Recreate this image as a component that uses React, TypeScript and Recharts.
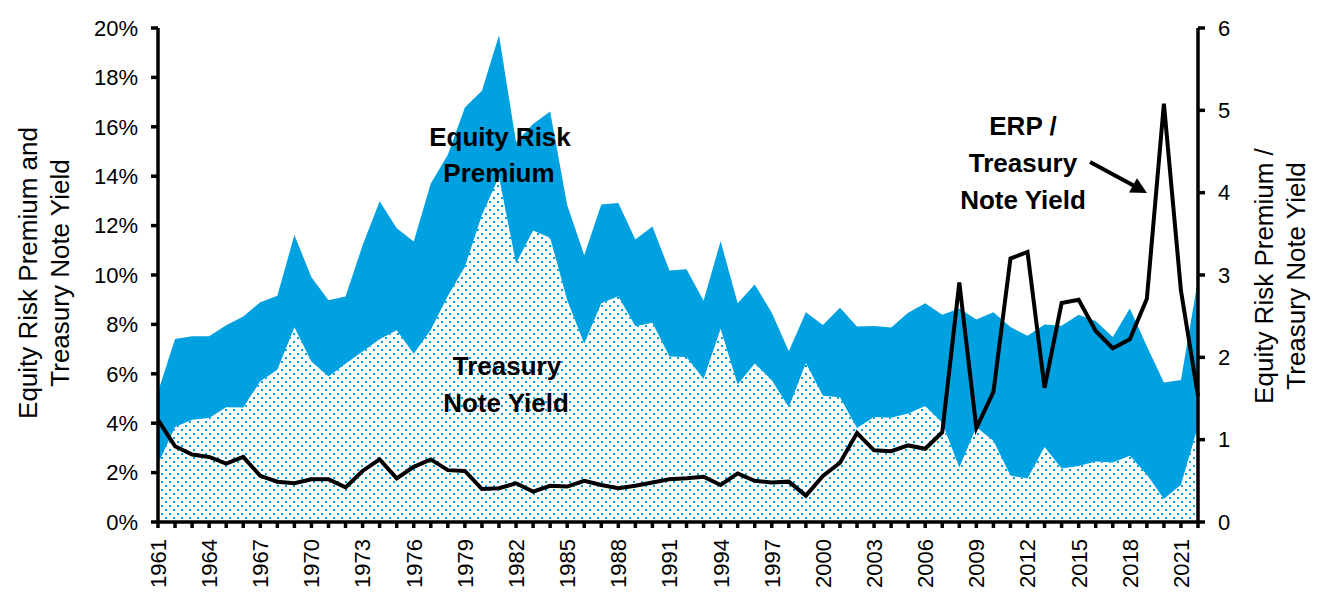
import { ComposedChart, Area, Line, XAxis, YAxis } from "recharts"

const FONT = "'Liberation Sans', Arial, sans-serif"
const BLUE = "#00A1E0"

// year-end values, in percent
const YEARS = [
  1961, 1962, 1963, 1964, 1965, 1966, 1967, 1968, 1969, 1970,
  1971, 1972, 1973, 1974, 1975, 1976, 1977, 1978, 1979, 1980,
  1981, 1982, 1983, 1984, 1985, 1986, 1987, 1988, 1989, 1990,
  1991, 1992, 1993, 1994, 1995, 1996, 1997, 1998, 1999, 2000,
  2001, 2002, 2003, 2004, 2005, 2006, 2007, 2008, 2009, 2010,
  2011, 2012, 2013, 2014, 2015, 2016, 2017, 2018, 2019, 2020,
  2021, 2022,
]

const TREASURY_YIELD = [
  2.35, 3.85, 4.14, 4.21, 4.65, 4.64, 5.70, 6.16, 7.88, 6.50,
  5.89, 6.41, 6.90, 7.40, 7.76, 6.81, 7.78, 9.15, 10.33, 12.43,
  13.98, 10.47, 11.80, 11.51, 8.99, 7.22, 8.86, 9.14, 7.93, 8.07,
  6.70, 6.68, 5.79, 7.82, 5.57, 6.42, 5.74, 4.65, 6.44, 5.11,
  5.05, 3.81, 4.25, 4.22, 4.39, 4.70, 4.02, 2.21, 3.84, 3.29,
  1.88, 1.76, 3.04, 2.17, 2.27, 2.45, 2.41, 2.68, 1.92, 0.93,
  1.51, 3.88,
]

const EQUITY_RISK_PREMIUM = [
  2.92, 3.56, 3.38, 3.31, 3.32, 3.68, 3.20, 3.00, 3.74, 3.41,
  3.09, 2.72, 4.30, 5.59, 4.13, 4.55, 5.92, 5.72, 6.45, 5.03,
  5.73, 4.90, 4.31, 5.11, 3.84, 3.58, 3.99, 3.77, 3.51, 3.89,
  3.48, 3.55, 3.17, 3.55, 3.29, 3.20, 2.73, 2.26, 2.05, 2.87,
  3.62, 4.10, 3.69, 3.65, 4.08, 4.16, 4.37, 6.43, 4.36, 5.20,
  6.01, 5.78, 4.96, 5.78, 6.12, 5.69, 5.08, 5.96, 5.20, 4.72,
  4.24, 5.94,
]

// ERP / Treasury Note Yield, right axis
const ERP_RATIO = [
  1.24, 0.92, 0.82, 0.79, 0.71, 0.79, 0.56, 0.49, 0.47, 0.52,
  0.52, 0.42, 0.62, 0.76, 0.53, 0.67, 0.76, 0.63, 0.62, 0.40,
  0.41, 0.47, 0.37, 0.44, 0.43, 0.50, 0.45, 0.41, 0.44, 0.48,
  0.52, 0.53, 0.55, 0.45, 0.59, 0.50, 0.48, 0.49, 0.32, 0.56,
  0.72, 1.08, 0.87, 0.86, 0.93, 0.89, 1.09, 2.91, 1.14, 1.58,
  3.20, 3.28, 1.63, 2.66, 2.70, 2.32, 2.11, 2.22, 2.71, 5.08,
  2.81, 1.53,
]

const LABEL_YEARS = [
  1961, 1964, 1967, 1970, 1973, 1976, 1979, 1982, 1985, 1988, 1991,
  1994, 1997, 2000, 2003, 2006, 2009, 2012, 2015, 2018, 2021,
]
const LEFT_TICKS = [0, 2, 4, 6, 8, 10, 12, 14, 16, 18, 20]
const RIGHT_TICKS = [0, 1, 2, 3, 4, 5, 6]

const data = YEARS.map((year, i) => ({
  year,
  tny: TREASURY_YIELD[i],
  erp: EQUITY_RISK_PREMIUM[i],
  ratio: ERP_RATIO[i],
}))

const W = 1317
const H = 599

function YearTick({ x, y, payload }: { x?: number; y?: number; payload?: { value: number } }) {
  if (x == null || y == null || !payload || !LABEL_YEARS.includes(payload.value)) return null
  return (
    <text
      x={x}
      y={y}
      transform={`rotate(-90, ${x}, ${y})`}
      textAnchor="end"
      dx={-9}
      dy="0.36em"
      fontSize={22}
      fontFamily={FONT}
      fill="#000"
    >
      {payload.value}
    </text>
  )
}

const axisStyle = { stroke: "#000", strokeWidth: 3.5 }

export default function App() {
  return (
    <div style={{ position: "relative", width: W, height: H, fontFamily: FONT }}>
      <ComposedChart width={W} height={H} data={data} margin={{ top: 20, right: 0, bottom: 0, left: 0 }}>
        <defs>
          <pattern id="tnyDots" width="8" height="8" patternUnits="userSpaceOnUse">
            <rect width="8" height="8" fill="#fff" />
            <rect x="1" y="1" width="2" height="2" fill={BLUE} />
            <rect x="5" y="5" width="2" height="2" fill={BLUE} />
          </pattern>
        </defs>
        <Area
          yAxisId="left"
          dataKey="tny"
          stackId="a"
          type="linear"
          stroke="none"
          fill="url(#tnyDots)"
          fillOpacity={1}
          isAnimationActive={false}
        />
        <Area
          yAxisId="left"
          dataKey="erp"
          stackId="a"
          type="linear"
          stroke="none"
          fill={BLUE}
          fillOpacity={1}
          isAnimationActive={false}
        />
        <Line
          yAxisId="right"
          dataKey="ratio"
          type="linear"
          stroke="#000"
          strokeWidth={4}
          dot={false}
          activeDot={false}
          isAnimationActive={false}
        />
        <XAxis
          dataKey="year"
          type="number"
          domain={[1961, 2022]}
          ticks={YEARS}
          interval={0}
          height={85}
          tickSize={6}
          tickMargin={2}
          tick={<YearTick />}
          axisLine={axisStyle}
          tickLine={axisStyle}
        />
        <YAxis
          yAxisId="left"
          domain={[0, 20]}
          ticks={LEFT_TICKS}
          interval={0}
          width={150}
          tickSize={7}
          tickMargin={13}
          tickFormatter={(v: number) => `${v}%`}
          tick={{ fill: "#000", fontSize: 22, fontFamily: FONT }}
          axisLine={axisStyle}
          tickLine={axisStyle}
        />
        <YAxis
          yAxisId="right"
          orientation="right"
          domain={[0, 6]}
          ticks={RIGHT_TICKS}
          interval={0}
          width={127}
          tickSize={7}
          tickMargin={13}
          tick={{ fill: "#000", fontSize: 22, fontFamily: FONT }}
          axisLine={axisStyle}
          tickLine={axisStyle}
        />
      </ComposedChart>

      {/* axis titles and in-chart callouts */}
      <svg
        width={W}
        height={H}
        style={{ position: "absolute", left: 0, top: 0, pointerEvents: "none" }}
        fontFamily={FONT}
      >
        <g fontSize={26} fill="#000" textAnchor="middle">
          <text x={29} y={265} transform="rotate(-90, 29, 265)">Equity Risk Premium and</text>
          <text x={61} y={265} transform="rotate(-90, 61, 265)">Treasury Note Yield</text>
          <text x={1265} y={268} transform="rotate(-90, 1265, 268)">Equity Risk Premium /</text>
          <text x={1297} y={268} transform="rotate(-90, 1297, 268)">Treasury Note Yield</text>
        </g>
        <g fontSize={26} fontWeight="bold" fill="#000" textAnchor="middle">
          <text x={492} y={138}>Equity Risk</text>
          <text x={491} y={174}>Premium</text>
          <text x={499} y={367}>Treasury</text>
          <text x={498} y={404}>Note Yield</text>
          <text x={1015} y={127}>ERP /</text>
          <text x={1015} y={164}>Treasury</text>
          <text x={1015} y={201}>Note Yield</text>
        </g>
        <line x1={1082} y1={154} x2={1126} y2={177.8} stroke="#000" strokeWidth={4} />
        <polygon points="1139,185 1121,184.4 1129,170.3" fill="#000" />
      </svg>
    </div>
  )
}
